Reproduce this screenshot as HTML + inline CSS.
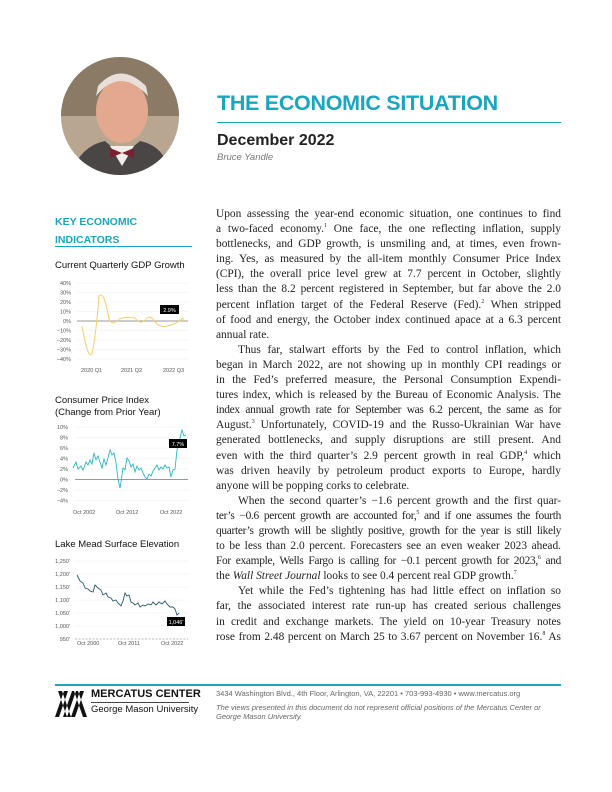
<!DOCTYPE html>
<html><head><meta charset="utf-8"><style>
body{margin:0;background:#fff;}
.pg{position:relative;width:612px;height:792px;overflow:hidden;font-family:"Liberation Sans",sans-serif;}
.abs{position:absolute;}
.body{left:216px;top:207px;width:345px;font-family:"Liberation Serif",serif;font-size:11.4px;line-height:15.1px;color:#222;}
.body div{white-space:nowrap;text-align:justify;text-align-last:justify;}
.body div.e{text-align-last:left;}
.body div.i{padding-left:22px;}
.body div.t{letter-spacing:-0.3px;word-spacing:-0.5px;}
sup{font-size:6px;line-height:0;}
.ct{font-size:9.5px;color:#111;}
svg text{font-family:"Liberation Sans",sans-serif;}
</style></head><body><div class="pg">
<svg class="abs" style="left:60px;top:56px" width="120" height="120"><defs><clipPath id="c"><circle cx="60" cy="60" r="59"/></clipPath></defs>
<g clip-path="url(#c)"><rect width="120" height="120" fill="#b8a690"/><rect x="0" y="0" width="120" height="60" fill="#8a7a66"/>
<ellipse cx="62" cy="55" rx="26" ry="32" fill="#e3a98f"/><path d="M36 40 Q60 10 88 40 L86 30 Q60 5 38 30Z" fill="#e8e0d8"/>
<path d="M10 120 Q20 90 45 85 L62 100 L80 85 Q105 90 112 120Z" fill="#4a4646"/><path d="M50 90 L62 110 L74 90Z" fill="#f0eee8"/><path d="M50 92 L62 97 L74 92 L74 102 L62 97 L50 102Z" fill="#7a2030"/></g></svg>
<div class="abs" style="left:217px;top:91px;font-size:21.5px;font-weight:bold;color:#1ba5bf;letter-spacing:-0.3px">THE ECONOMIC SITUATION</div>
<div class="abs" style="left:217px;top:122px;width:344px;height:1px;background:#1ba5bf"></div>
<div class="abs" style="left:217px;top:132px;font-size:16px;font-weight:bold;color:#222">December 2022</div>
<div class="abs" style="left:217px;top:152px;font-size:9.5px;font-style:italic;color:#777">Bruce Yandle</div>
<div class="abs" style="left:55px;top:213px;font-size:10.5px;font-weight:bold;color:#1ba5bf;line-height:18px">KEY ECONOMIC<br>INDICATORS</div>
<div class="abs" style="left:55px;top:246px;width:137px;height:1px;background:#1ba5bf"></div>
<div class="abs ct" style="left:55px;top:260px">Current Quarterly GDP Growth</div>
<svg class="abs" style="left:55px;top:275px" width="140" height="100" font-size="5.5" fill="#555">
<g stroke="#eee" stroke-width="0.5"><line x1="22" x2="133" y1="8" y2="8"/><line x1="22" x2="133" y1="17.5" y2="17.5"/><line x1="22" x2="133" y1="27" y2="27"/><line x1="22" x2="133" y1="36.5" y2="36.5"/><line x1="22" x2="133" y1="55.5" y2="55.5"/><line x1="22" x2="133" y1="65" y2="65"/><line x1="22" x2="133" y1="74.5" y2="74.5"/><line x1="22" x2="133" y1="84" y2="84"/></g>
<line x1="22" x2="133" y1="46" y2="46" stroke="#777" stroke-width="0.7"/>
<g text-anchor="end"><text x="16" y="10">40%</text><text x="16" y="19.5">30%</text><text x="16" y="29">20%</text><text x="16" y="38.5">10%</text><text x="16" y="48">0%</text><text x="16" y="57.5">−10%</text><text x="16" y="67">−20%</text><text x="16" y="76.5">−30%</text><text x="16" y="86">−40%</text></g>
<path d="M27 51 Q33 85 37 79 Q41 60 44 21 Q49 15 54 44 Q58 52 64 44 Q72 41 80 43 Q86 51 92 43 Q96 40 100 47 Q106 54 116 50 Q124 47 128 43 L128 47" fill="none" stroke="#f5cf6e" stroke-width="1"/>
<rect x="105" y="30" width="19" height="9" fill="#000"/><text x="114.5" y="37" fill="#fff" text-anchor="middle">2.9%</text>
<text x="26" y="97">2020 Q1</text><text x="66" y="97">2021 Q2</text><text x="108" y="97">2022 Q3</text></svg>
<div class="abs ct" style="left:55px;top:395px;line-height:12px">Consumer Price Index<br>(Change from Prior Year)</div>
<svg class="abs" style="left:55px;top:422px" width="140" height="95" font-size="5.5" fill="#555">
<g stroke="#eee" stroke-width="0.5"><line x1="20" x2="133" y1="5" y2="5"/><line x1="20" x2="133" y1="15.5" y2="15.5"/><line x1="20" x2="133" y1="26" y2="26"/><line x1="20" x2="133" y1="36.5" y2="36.5"/><line x1="20" x2="133" y1="47" y2="47"/><line x1="20" x2="133" y1="68" y2="68"/><line x1="20" x2="133" y1="78.5" y2="78.5"/></g>
<line x1="20" x2="133" y1="57.5" y2="57.5" stroke="#777" stroke-width="0.7"/>
<g text-anchor="end"><text x="13" y="7">10%</text><text x="13" y="17.5">8%</text><text x="13" y="28">6%</text><text x="13" y="38.5">4%</text><text x="13" y="49">2%</text><text x="13" y="59.5">0%</text><text x="13" y="70">−2%</text><text x="13" y="80.5">−4%</text></g>
<path d="M18 46 L21 40 L23 47 L26 44 L28 48 L31 40 L33 43 L35 38 L37 42 L39 31 L41 38 L43 34 L45 40 L47 46 L49 37 L51 43 L53 36 L55 28 L57 33 L59 31 L61 41 L63 57 L65 66 L66 60 L68 46 L70 48 L72 36 L74 39 L76 45 L78 42 L80 50 L82 44 L84 48 L86 46 L88 51 L90 55 L92 57 L94 52 L96 54 L98 49 L100 46 L102 43 L104 48 L106 45 L108 47 L110 43 L112 46 L114 45 L116 55 L118 48 L120 47 L122 28 L124 20 L126 12 L127 8 L129 14 L131 13" fill="none" stroke="#2ab8c8" stroke-width="0.9"/>
<rect x="114" y="17" width="18" height="9" fill="#000"/><text x="123" y="24" fill="#fff" text-anchor="middle">7.7%</text>
<text x="18" y="92">Oct 2002</text><text x="61" y="92">Oct 2012</text><text x="105" y="92">Oct 2022</text></svg>
<div class="abs ct" style="left:55px;top:539px">Lake Mead Surface Elevation</div>
<svg class="abs" style="left:55px;top:555px" width="140" height="95" font-size="5.5" fill="#555">
<g stroke="#eee" stroke-width="0.5"><line x1="20" x2="133" y1="6" y2="6"/><line x1="20" x2="133" y1="19" y2="19"/><line x1="20" x2="133" y1="32" y2="32"/><line x1="20" x2="133" y1="45" y2="45"/><line x1="20" x2="133" y1="58" y2="58"/><line x1="20" x2="133" y1="71" y2="71"/></g>
<line x1="20" x2="133" y1="84" y2="84" stroke="#777" stroke-width="0.6" stroke-dasharray="2 1.5"/>
<g text-anchor="end"><text x="15" y="8">1,250'</text><text x="15" y="21">1,200'</text><text x="15" y="34">1,150'</text><text x="15" y="47">1,100'</text><text x="15" y="60">1,050'</text><text x="15" y="73">1,000'</text><text x="15" y="86">950'</text></g>
<path d="M22 20 L25 26 L28 28 L30 33 L33 34 L35 36 L38 37 L40 30 L43 33 L46 35 L48 40 L51 38 L53 42 L56 43 L58 46 L61 45 L63 48 L66 51 L68 46 L70 38 L72 41 L74 40 L76 47 L78 48 L80 50 L83 48 L85 52 L88 50 L90 51 L93 49 L96 50 L98 47 L101 50 L104 47 L107 49 L110 46 L112 49 L115 52 L118 52 L120 54 L122 60 L124 58" fill="none" stroke="#2a5a66" stroke-width="0.9"/>
<rect x="112" y="62" width="18" height="9" fill="#000"/><text x="121" y="69" fill="#fff" text-anchor="middle">1,046'</text>
<text x="22" y="90">Oct 2000</text><text x="63" y="90">Oct 2011</text><text x="106" y="90">Oct 2022</text></svg>
<div class="abs body">
<div>Upon assessing the year-end economic situation, one continues to find</div>
<div>a two-faced economy.<sup>1</sup> One face, the one reflecting inflation, supply</div>
<div>bottlenecks, and GDP growth, is unsmiling and, at times, even frown-</div>
<div>ing. Yes, as measured by the all-item monthly Consumer Price Index</div>
<div>(CPI), the overall price level grew at 7.7 percent in October, slightly</div>
<div>less than the 8.2 percent registered in September, but far above the 2.0</div>
<div>percent inflation target of the Federal Reserve (Fed).<sup>2</sup> When stripped</div>
<div>of food and energy, the October index continued apace at a 6.3 percent</div>
<div class="e">annual rate.</div>
<div class="i">Thus far, stalwart efforts by the Fed to control inflation, which</div>
<div>began in March 2022, are not showing up in monthly CPI readings or</div>
<div>in the Fed’s preferred measure, the Personal Consumption Expendi-</div>
<div>tures index, which is released by the Bureau of Economic Analysis. The</div>
<div class="t">index annual growth rate for September was 6.2 percent, the same as for</div>
<div>August.<sup>3</sup> Unfortunately, COVID-19 and the Russo-Ukrainian War have</div>
<div>generated bottlenecks, and supply disruptions are still present. And</div>
<div>even with the third quarter’s 2.9 percent growth in real GDP,<sup>4</sup> which</div>
<div>was driven heavily by petroleum product exports to Europe, hardly</div>
<div class="e">anyone will be popping corks to celebrate.</div>
<div class="i">When the second quarter’s −1.6 percent growth and the first quar-</div>
<div class="t">ter’s −0.6 percent growth are accounted for,<sup>5</sup> and if one assumes the fourth</div>
<div class="t">quarter’s growth will be slightly positive, growth for the year is still likely</div>
<div>to be less than 2.0 percent. Forecasters see an even weaker 2023 ahead.</div>
<div class="t">For example, Wells Fargo is calling for −0.1 percent growth for 2023,<sup>6</sup> and</div>
<div class="e">the <i>Wall Street Journal</i> looks to see 0.4 percent real GDP growth.<sup>7</sup></div>
<div class="i">Yet while the Fed’s tightening has had little effect on inflation so</div>
<div>far, the associated interest rate run-up has created serious challenges</div>
<div>in credit and exchange markets. The yield on 10-year Treasury notes</div>
<div>rose from 2.48 percent on March 25 to 3.67 percent on November 16.<sup>8</sup> As</div>
</div>
<div class="abs" style="left:55px;top:684px;width:506px;height:1.5px;background:#1ba5bf"></div>
<svg class="abs" style="left:55px;top:691px" width="36" height="26"><path d="M0 26 L9 0 L13 0 L4 26Z M8 26 L17 0 L21 0 L12 26Z M16 26 L25 0 L29 0 L20 26Z M3 0 L12 26 L16 26 L7 0Z M19 0 L28 26 L32 26 L23 0Z" fill="#111"/></svg>
<div class="abs" style="left:91px;top:688px;font-size:11px;font-weight:bold;color:#111">MERCATUS CENTER</div>
<div class="abs" style="left:91px;top:702px;width:98px;height:1px;background:#444"></div>
<div class="abs" style="left:91px;top:704px;font-size:9.5px;color:#111">George Mason University</div>
<div class="abs" style="left:216px;top:689px;font-size:7.5px;color:#666">3434 Washington Blvd., 4th Floor, Arlington, VA, 22201 • 703-993-4930 • www.mercatus.org</div>
<div class="abs" style="left:216px;top:703px;font-size:7.5px;font-style:italic;color:#666;line-height:9px;width:350px">The views presented in this document do not represent official positions of the Mercatus Center or George Mason University.</div>
</div></body></html>
